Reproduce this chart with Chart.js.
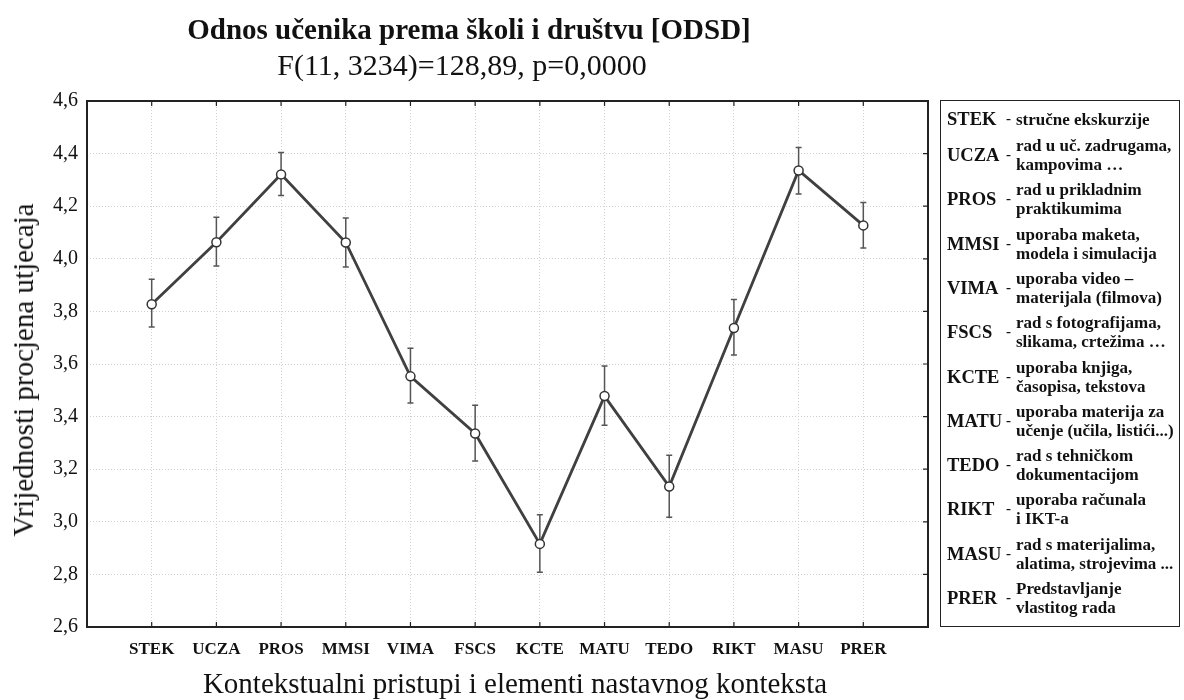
<!DOCTYPE html>
<html>
<head>
<meta charset="utf-8">
<script src="https://cdn.jsdelivr.net/npm/chart.js@4.4.1/dist/chart.umd.min.js"></script>
<style>
  body { margin: 0; background: #fff; }
  #wrap { position: relative; width: 1184px; height: 700px; font-family: "Liberation Serif", serif; color: #111; }
  #title { position: absolute; left: 0; width: 938px; top: 12px; text-align: center; font-size: 29px; line-height: 34px; font-weight: bold; }
  #subtitle { position: absolute; left: 0; width: 924px; top: 48px; text-align: center; font-size: 30px; line-height: 34px; }
  #xtitle { position: absolute; left: 0; width: 1030px; top: 666px; text-align: center; font-size: 29px; line-height: 34px; }
  #ytitle { position: absolute; left: 23px; top: 370px; transform: translate(-50%, -50%) rotate(-90deg); font-size: 29px; line-height: 34px; white-space: nowrap; }
  #legend { position: absolute; left: 940px; top: 100px; width: 240px; height: 527px; border: 1.5px solid #222; box-sizing: border-box; font-weight: bold; }
  .row { position: absolute; left: 0; right: 0; height: 40px; transform: translateY(-50%); }
  .code { position: absolute; left: 6px; top: 50%; transform: translateY(-50%); font-size: 18.5px; }
  .dash { position: absolute; left: 65px; top: 50%; transform: translateY(-55%); font-size: 15px; }
  .desc { position: absolute; left: 75px; top: 50%; transform: translateY(-50%); font-size: 17px; line-height: 19px; white-space: nowrap; }
</style>
</head>
<body>
<div id="wrap">
  <canvas id="chart" width="1184" height="700"></canvas>
  <div id="title">Odnos učenika prema školi i društvu [ODSD]</div>
  <div id="subtitle">F(11, 3234)=128,89, p=0,0000</div>
  <div id="xtitle">Kontekstualni pristupi i elementi nastavnog konteksta</div>
  <div id="ytitle">Vrijednosti procjena utjecaja</div>
  <div id="legend"></div>
</div>
<script>
// ---- data ----
const categories = ['STEK', 'UCZA', 'PROS', 'MMSI', 'VIMA', 'FSCS', 'KCTE', 'MATU', 'TEDO', 'RIKT', 'MASU', 'PRER'];
const means = [3.827, 4.063, 4.321, 4.062, 3.553, 3.336, 2.916, 3.478, 3.134, 3.737, 4.336, 4.127];
const upper = [3.922, 4.158, 4.404, 4.155, 3.660, 3.443, 3.027, 3.592, 3.253, 3.845, 4.423, 4.214];
const lower = [3.741, 3.973, 4.241, 3.969, 3.452, 3.231, 2.808, 3.367, 3.017, 3.634, 4.246, 4.041];
const legendLines = [
  ['stručne ekskurzije'],
  ['rad u uč. zadrugama,', 'kampovima …'],
  ['rad u prikladnim', 'praktikumima'],
  ['uporaba maketa,', 'modela i simulacija'],
  ['uporaba video –', 'materijala (filmova)'],
  ['rad s fotografijama,', 'slikama, crtežima …'],
  ['uporaba knjiga,', 'časopisa, tekstova'],
  ['uporaba materija za', 'učenje (učila, listići...)'],
  ['rad s tehničkom', 'dokumentacijom'],
  ['uporaba računala', 'i IKT-a'],
  ['rad s materijalima,', 'alatima, strojevima ...'],
  ['Predstavljanje', 'vlastitog rada']
];

const FONT = 'Liberation Serif';

// ---- legend box ----
const legendEl = document.getElementById('legend');
categories.forEach((c, i) => {
  const row = document.createElement('div');
  row.className = 'row';
  row.style.top = (i === 0 ? 18 : 54 + (i - 1) * 44.3) + 'px';
  row.innerHTML = `<span class="code">${c}</span><span class="dash">-</span><span class="desc">${legendLines[i].join('<br>')}</span>`;
  legendEl.appendChild(row);
});

// ---- error bars + frame ----
const errorBars = {
  id: 'errorBars',
  beforeDatasetsDraw(chart) {
    const { ctx, scales: { x, y } } = chart;
    ctx.save();
    ctx.strokeStyle = '#555';
    ctx.lineWidth = 1.5;
    means.forEach((m, i) => {
      const px = x.getPixelForValue(i + 1);
      const top = y.getPixelForValue(upper[i]);
      const bot = y.getPixelForValue(lower[i]);
      ctx.beginPath();
      ctx.moveTo(px, top); ctx.lineTo(px, bot);
      ctx.moveTo(px - 3, top); ctx.lineTo(px + 3, top);
      ctx.moveTo(px - 3, bot); ctx.lineTo(px + 3, bot);
      ctx.stroke();
    });
    ctx.restore();
  },
  afterDraw(chart) {
    const { ctx, chartArea: a, scales: { x, y } } = chart;
    ctx.save();
    ctx.strokeStyle = '#222';
    ctx.lineWidth = 2;
    ctx.strokeRect(a.left, a.top, a.right - a.left, a.bottom - a.top);
    ctx.lineWidth = 1.2;
    ctx.beginPath();
    categories.forEach((c, i) => {
      const px = x.getPixelForValue(i + 1);
      ctx.moveTo(px, a.top); ctx.lineTo(px, a.top + 5);
      ctx.moveTo(px, a.bottom); ctx.lineTo(px, a.bottom - 5);
    });
    y.ticks.forEach(t => {
      const py = y.getPixelForValue(t.value);
      ctx.moveTo(a.right, py); ctx.lineTo(a.right - 5, py);
    });
    ctx.stroke();
    ctx.restore();
  }
};

new Chart(document.getElementById('chart'), {
  type: 'line',
  data: {
    datasets: [{
      data: means.map((m, i) => ({ x: i + 1, y: m })),
      borderColor: '#404040',
      borderWidth: 2.8,
      pointRadius: 4.5,
      pointBackgroundColor: '#fff',
      pointBorderColor: '#333',
      pointBorderWidth: 1.5,
      tension: 0
    }]
  },
  options: {
    responsive: false,
    animation: false,
    layout: { padding: { top: 101, right: 256, left: 0, bottom: 0 } },
    plugins: { legend: { display: false }, tooltip: { enabled: false } },
    scales: {
      x: {
        type: 'linear', min: 0, max: 13,
        afterBuildTicks: s => { s.ticks = categories.map((c, i) => ({ value: i + 1 })); },
        afterFit: s => { s.height = 73; },
        grid: { color: '#d0d0d0', drawTicks: false },
        border: { display: false, dash: [1, 2] },
        ticks: {
          autoSkip: false, maxRotation: 0, padding: 12,
          color: '#111', font: { family: FONT, size: 17, weight: 'bold' },
          callback: v => categories[v - 1] || ''
        }
      },
      y: {
        min: 2.6, max: 4.6,
        afterFit: s => { s.width = 87; },
        grid: { color: '#d0d0d0', drawTicks: false },
        border: { display: false, dash: [1, 2] },
        ticks: {
          stepSize: 0.2, padding: 9, color: '#111',
          font: { family: FONT, size: 20 },
          callback: v => v.toFixed(1).replace('.', ',')
        }
      }
    }
  },
  plugins: [errorBars]
});
</script>
</body>
</html>
